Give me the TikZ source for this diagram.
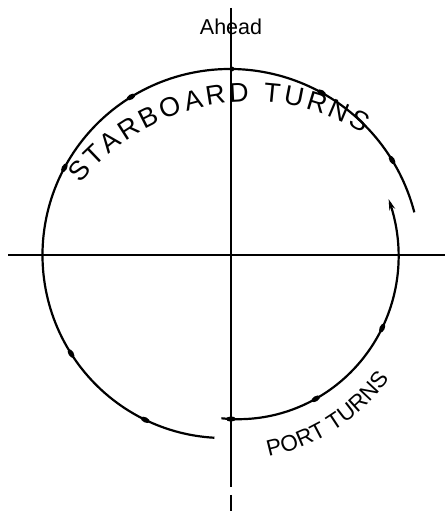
\documentclass[tikz,border=0pt]{standalone}
\usepackage{fontspec}
\setmainfont{Liberation Sans}
\usetikzlibrary{arrows.meta,decorations.text}
\tikzset{
  axis/.style={line width=1.8pt, black},
  track/.style={line width=2.2pt, black},
  lbl/.style={font=\fontsize{21.5}{21.5}\selectfont},
  declare function={ro(\a)=181+0.05*(250-\a); rp(\a)=172-11*((19-\a)/108)^2;},
}
\newcommand{\omark}[1]{\fill[shift={({227+ro(#1)*cos(#1)},{253+ro(#1)*sin(#1)})}, rotate=#1+90] (0,0) ellipse (4.8 and 2.6);}
\newcommand{\pmark}[1]{\fill[shift={({227+rp(#1)*cos(#1)},{253+rp(#1)*sin(#1)})}, rotate=#1+90] (0,0) ellipse (4.8 and 2.6);}
\begin{document}
\begin{tikzpicture}[x=1pt,y=1pt]
\useasboundingbox (0,0) rectangle (445,511);
% text Ahead
\node[lbl, anchor=base] (ahead) at (231,476) {Ahead};
% axes
\coordinate (vtop) at (231,503);
\coordinate (vgap1) at (231,24);
\coordinate (vgap2) at (231,16);
\coordinate (vbot) at (231,0);
\coordinate (hleft) at (8,256);
\coordinate (hright) at (445,256);
\draw[axis] (vtop) -- (vgap1);
\draw[axis] (vgap2) -- (vbot);
\draw[axis] (hleft) -- (hright);
% starboard (outer) track
\draw[track] plot[domain=13.7:266, samples=160, variable=\a]
  ({227+ro(\a)*cos(\a)},{253+ro(\a)*sin(\a)});
\omark{243.2}\omark{211.5}\omark{151}\omark{120.8}\omark{60.2}\omark{30.7}
\fill[shift={({227+ro(88.5)*cos(88.5)},{253+ro(88.5)*sin(88.5)})}] (0,0) circle (2.4);
% port (inner) track
\draw[track, -{Stealth[length=11pt,width=6pt]}] plot[domain=-92:20, samples=90, variable=\a]
  ({227+rp(\a)*cos(\a)},{253+rp(\a)*sin(\a)});
\pmark{-88.6}\pmark{-57.8}\pmark{-24.3}
% curved labels
\path[decorate, decoration={text along path,
    text={|\fontsize{27}{27}\selectfont|STARBOARD TURNS}, text align={fit to path}}]
  ([shift={(141.5:217.3)}]250.6,191.9) arc[start angle=141.5, end angle=58.8, radius=217.3];
\path[decorate, decoration={text along path,
    text={|\fontsize{22.5}{22.5}\selectfont|PORT TURNS}, text align={fit to path}}]
  ([shift={(-78.2:203)}]227,253) arc[start angle=-78.2, end angle=-36.5, radius=203];
\end{tikzpicture}
\end{document}
